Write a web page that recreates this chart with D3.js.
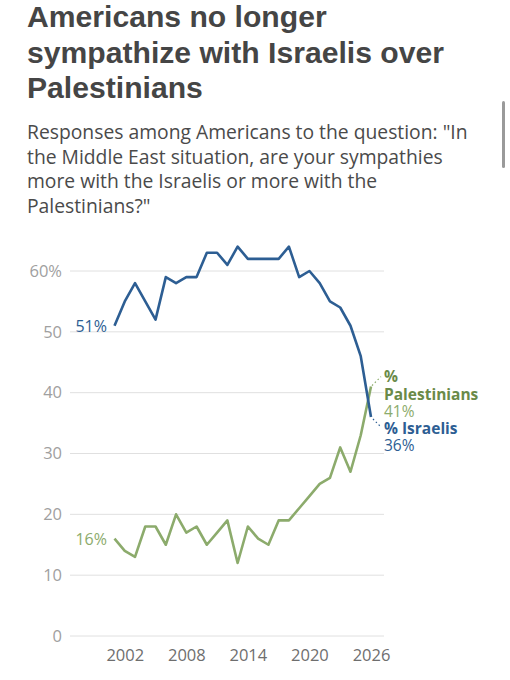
<!DOCTYPE html>
<html lang="en">
<head>
    <meta charset="UTF-8">
    <title>Americans no longer sympathize with Israelis over Palestinians</title>
    <script src="https://d3js.org/d3.v7.min.js"></script>
    <style>
        body {
            margin: 0;
            background: #fff;
            font-family: "Open Sans", "Liberation Sans", sans-serif;
        }
    </style>
</head>
<body>
    <div class="chart"></div>

    <script>
        // données Gallup, une valeur par année
        const annees = [2001,2002,2003,2004,2005,2006,2007,2008,2009,2010,2011,2012,2013,
                        2014,2015,2016,2017,2018,2019,2020,2021,2022,2023,2024,2025,2026];
        const israelis = [51,55,58,55,52,59,58,59,59,63,63,61,64,62,62,62,62,64,59,60,58,55,54,51,46,36];
        const palestiniens = [16,14,13,18,18,15,20,17,18,15,17,19,12,18,16,15,19,19,21,23,25,26,31,27,33,41];
        const ticksY = [0,10,20,30,40,50,60];
        const ticksX = [2002,2008,2014,2020,2026];
        const titre = ['Americans no longer', 'sympathize with Israelis over', 'Palestinians'];
        const sousTitre = ['Responses among Americans to the question: "In',
                           'the Middle East situation, are your sympathies',
                           'more with the Israelis or more with the',
                           'Palestinians?"'];

        showChart(510, 680);

        function showChart(w, h){
            let bleu = '#2d5e93', vert = '#8cab6c', vertFonce = '#6a8a48';
            let svg = d3.select('.chart')
                .append('svg')
                    .attr('width', w).attr('height', h);

            // titre et sous-titre
            let t = svg.selectAll('.titre')
                .data(titre)
                .enter()
                .append('text')
                .attr('class', 'titre')
                .attr('x', 27)
                .attr('y', (d,i) => 27 + i*35.7)
                .attr('font-family', '"Liberation Sans", Arial, sans-serif')
                .attr('font-size', 30)
                .attr('font-weight', 'bold')
                .attr('fill', '#454545')
                .text(d => d);
            ajusterTaille(t, 30, 417);
            let st = svg.selectAll('.sousTitre')
                .data(sousTitre)
                .enter()
                .append('text')
                .attr('class', 'sousTitre')
                .attr('x', 27)
                .attr('y', (d,i) => 139 + i*24.5)
                .attr('font-size', 18)
                .attr('fill', '#4a4a4a')
                .text(d => d);
            ajusterTaille(st, 18, 441);

            // barre de défilement de la capture
            svg.append('rect')
                .attr('x', 502).attr('y', 101)
                .attr('width', 3).attr('height', 67)
                .attr('rx', 1.5)
                .attr('fill', '#9a9a9a');

            let x = d3.scaleLinear().domain([2001, 2026]).range([114.5, 371]);
            let y = d3.scaleLinear().domain([0, 60]).range([636, 271]);

            // grille horizontale
            svg.selectAll('.grille')
                .data(ticksY)
                .enter()
                .append('line')
                .attr('class', 'grille')
                .attr('x1', 70).attr('x2', 384)
                .attr('y1', d => y(d)).attr('y2', d => y(d))
                .attr('stroke', '#e0e0e0')
                .attr('stroke-width', 1);

            // axe Y
            let axeY = svg.append('g')
                .attr('transform', 'translate(62,0)')
                .call(d3.axisLeft(y).tickValues(ticksY).tickSize(0).tickPadding(0)
                    .tickFormat(d => d == 60 ? d + '%' : d));
            axeY.select('.domain').remove();
            axeY.selectAll('text')
                .attr('font-family', '"Open Sans", sans-serif')
                .attr('font-size', 16.5)
                .attr('fill', '#a0a0a0');

            // axe X
            let axeX = svg.append('g')
                .attr('transform', 'translate(0,649)')
                .call(d3.axisBottom(x).tickValues(ticksX).tickSize(0).tickPadding(0)
                    .tickFormat(d3.format('d')));
            axeX.select('.domain').remove();
            axeX.selectAll('text')
                .attr('font-family', '"Open Sans", sans-serif')
                .attr('font-size', 16.5)
                .attr('fill', '#6e6e6e');

            // lignes
            let ligne = d3.line()
                .x((d,i) => x(annees[i]))
                .y(d => y(d));
            svg.append('path')
                .datum(palestiniens)
                .attr('d', ligne)
                .attr('fill', 'none')
                .attr('stroke', vert)
                .attr('stroke-width', 2.6)
                .attr('stroke-linejoin', 'round');
            svg.append('path')
                .datum(israelis)
                .attr('d', ligne)
                .attr('fill', 'none')
                .attr('stroke', bleu)
                .attr('stroke-width', 2.6)
                .attr('stroke-linejoin', 'round');

            let n = annees.length - 1;
            let fin = x(annees[n]);

            // étiquettes de début
            svg.append('text')
                .attr('x', 107).attr('y', y(israelis[0]) + 6)
                .attr('text-anchor', 'end')
                .attr('font-size', 16)
                .attr('fill', bleu)
                .text(israelis[0] + '%');
            svg.append('text')
                .attr('x', 107).attr('y', y(palestiniens[0]) + 6)
                .attr('text-anchor', 'end')
                .attr('font-size', 16)
                .attr('fill', vert)
                .text(palestiniens[0] + '%');

            // pointillés vers les étiquettes de fin
            svg.append('line')
                .attr('x1', fin + 1).attr('y1', y(palestiniens[n]) - 1)
                .attr('x2', fin + 10).attr('y2', y(palestiniens[n]) - 10)
                .attr('stroke', vert).attr('stroke-width', 1.2)
                .attr('stroke-dasharray', '1.5,2.5');
            svg.append('line')
                .attr('x1', fin + 2).attr('y1', y(israelis[n]) + 2)
                .attr('x2', fin + 10).attr('y2', y(israelis[n]) + 10)
                .attr('stroke', bleu).attr('stroke-width', 1.2)
                .attr('stroke-dasharray', '1.5,2.5');

            // étiquettes de fin
            let etiquettes = [
                {'t':'%', 'y':382, 'c':vertFonce, 'b':true},
                {'t':'Palestinians', 'y':399.5, 'c':vertFonce, 'b':true},
                {'t':palestiniens[n] + '%', 'y':417, 'c':vert, 'b':false},
                {'t':'% Israelis', 'y':434, 'c':bleu, 'b':true},
                {'t':israelis[n] + '%', 'y':451, 'c':bleu, 'b':false}
            ];
            svg.selectAll('.etiquette')
                .data(etiquettes)
                .enter()
                .append('text')
                .attr('class', 'etiquette')
                .attr('x', 384)
                .attr('y', d => d.y)
                .attr('font-size', 15.5)
                .attr('font-weight', d => d.b ? 'bold' : 'normal')
                .attr('fill', d => d.c)
                .text(d => d.t);
        }

        // met la taille de police à l'échelle pour que la ligne la plus large fasse "largeur"
        function ajusterTaille(sel, taille, largeur){
            let max = d3.max(sel.nodes(), n => n.getComputedTextLength());
            if(max > 0) sel.attr('font-size', taille * largeur / max);
        }
    </script>
</body>
</html>
